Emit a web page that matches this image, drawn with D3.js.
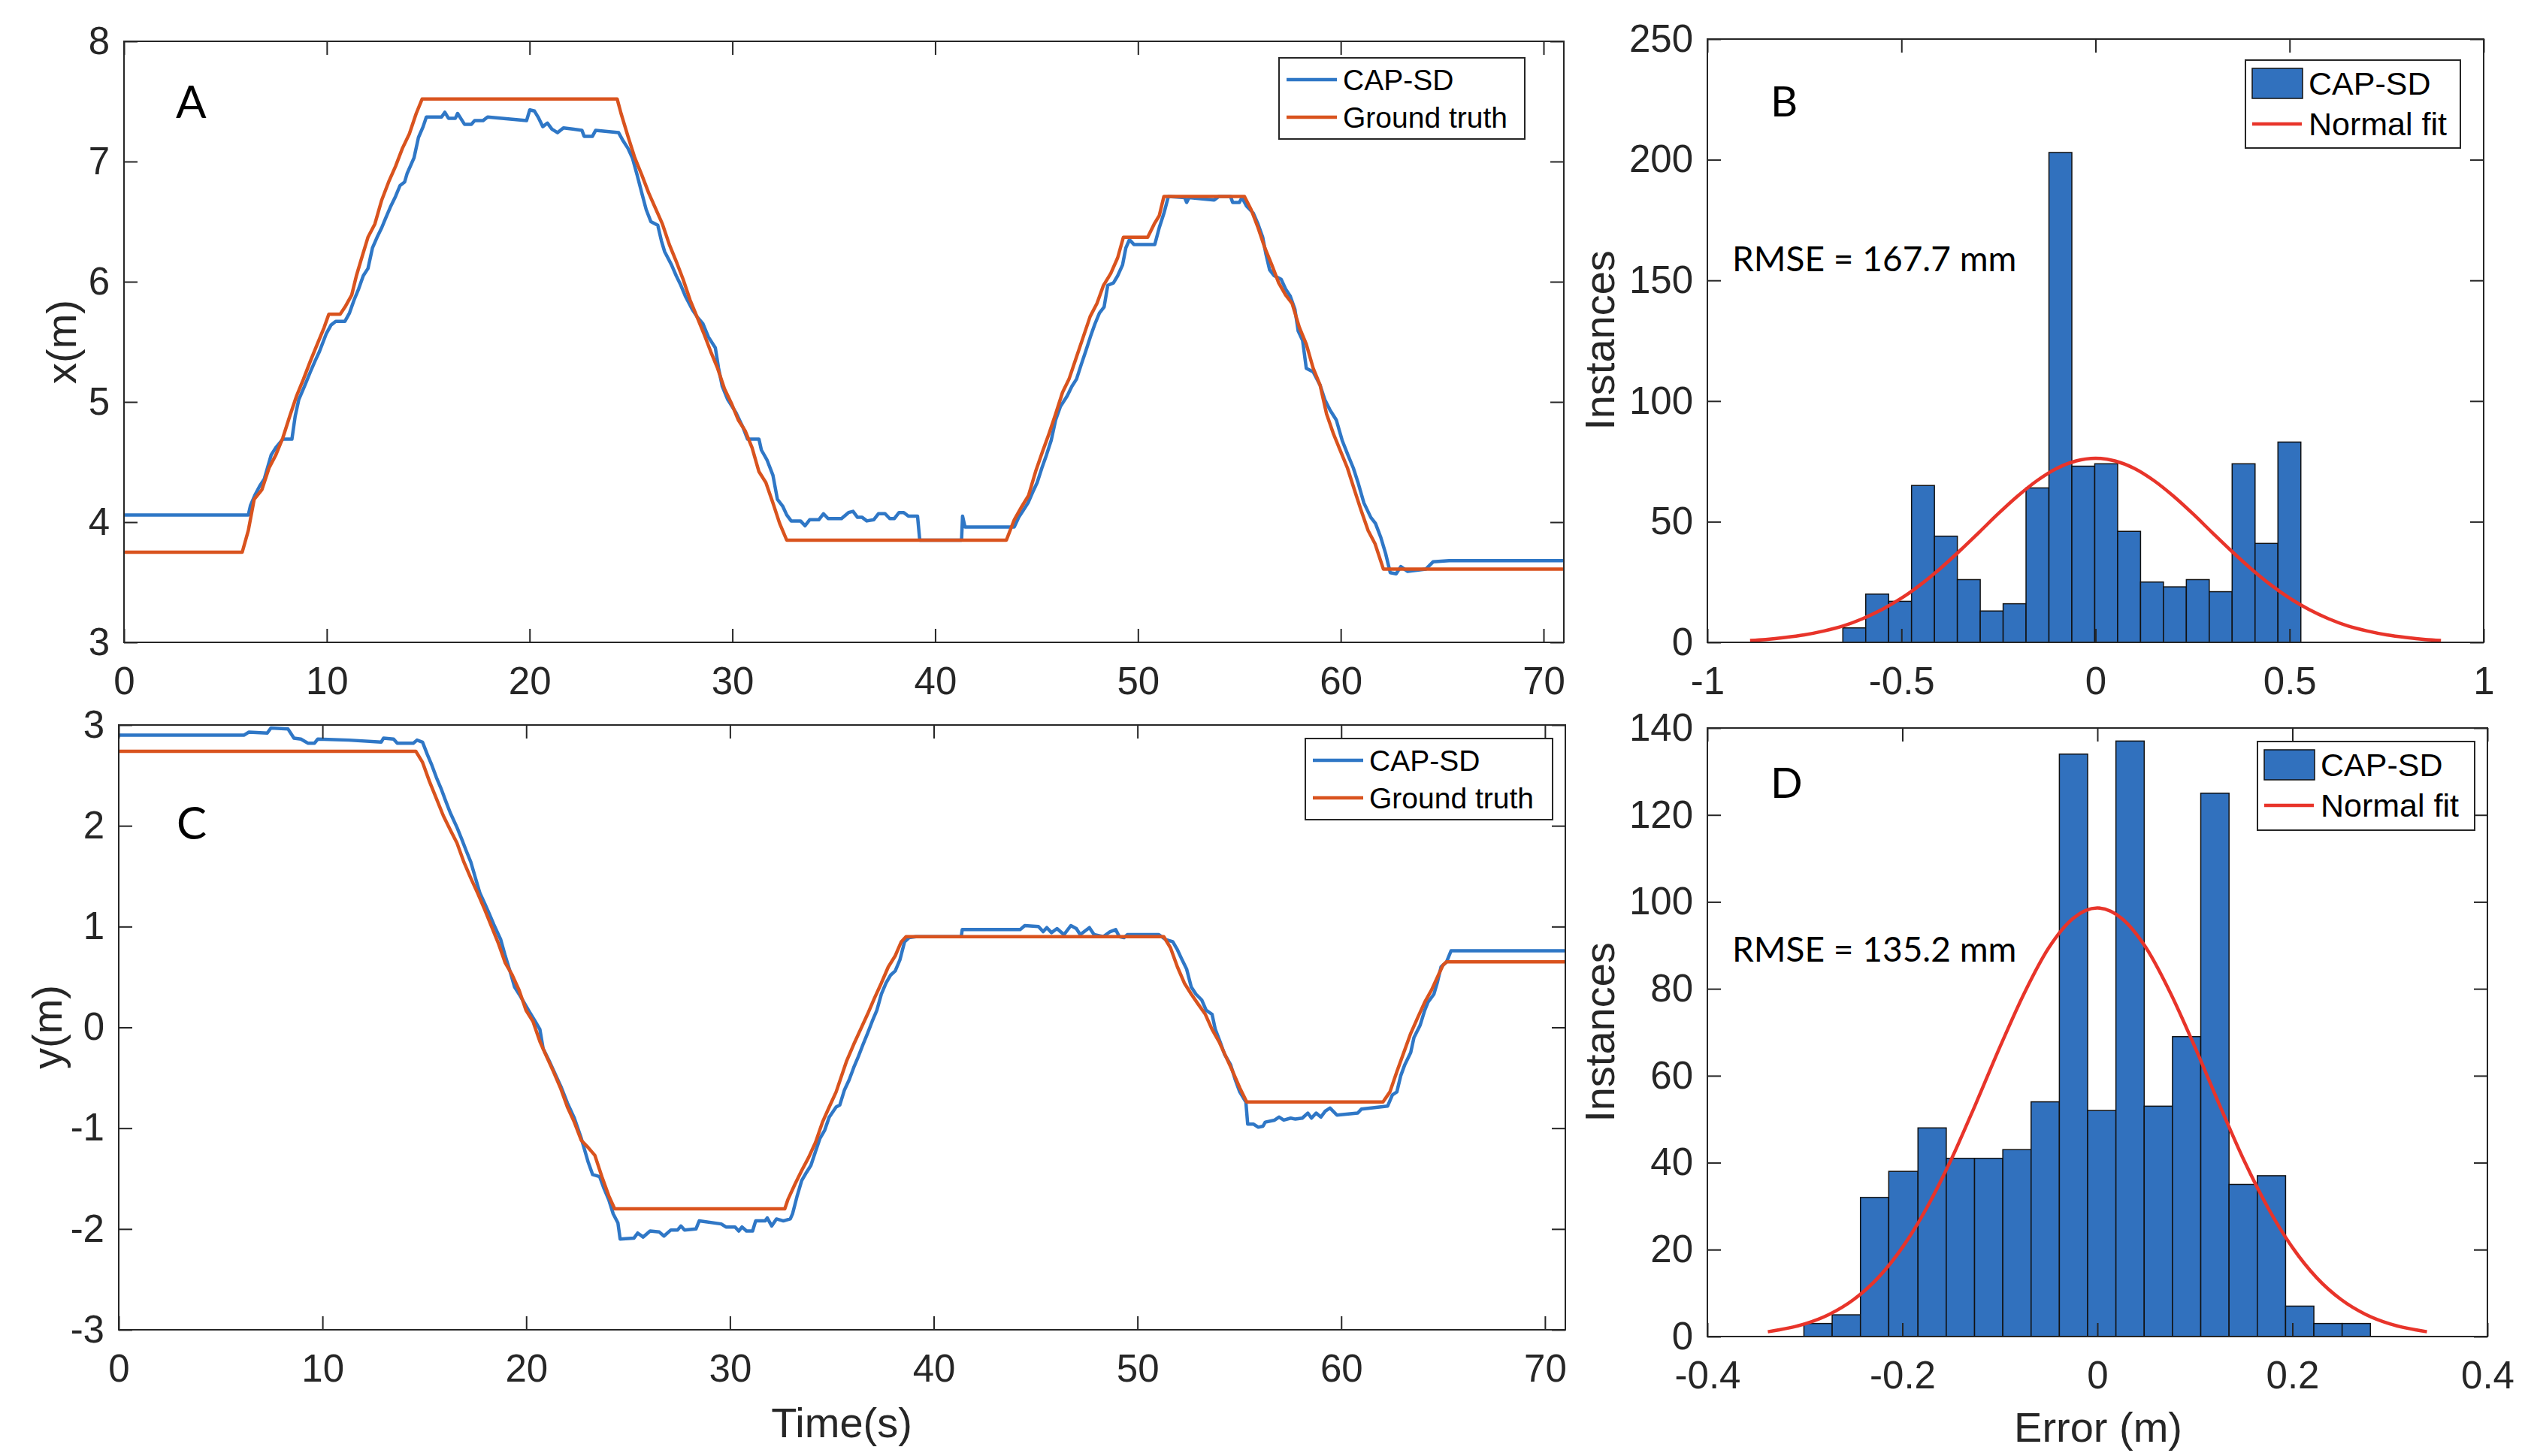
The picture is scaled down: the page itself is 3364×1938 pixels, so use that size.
<!DOCTYPE html>
<html lang="en">
<head>
<meta charset="UTF-8">
<title>CAP-SD trajectory and error</title>
<script src="https://d3js.org/d3.v7.min.js"></script>
<style>
  body { margin: 0; background: #fff; }
  .tick text { fill: #262626; }
</style>
</head>
<body>
<svg id="chart" width="3364" height="1938"></svg>
<script>
// ---------- data ----------
// panel A: x position over time, [time (s), x (m)]
const xTruth = [[0,3.75],[5.83,3.75],[6.13,3.93],[6.42,4.19],[6.8,4.27],[7.15,4.45],[7.49,4.56],[7.83,4.70],[8.17,4.88],[8.51,5.05],[8.85,5.19],[9.19,5.34],[9.53,5.48],[9.87,5.62],[10.1,5.73],[10.66,5.73],[10.9,5.79],[11.23,5.89],[11.46,6.05],[11.69,6.18],[12.03,6.37],[12.37,6.48],[12.71,6.68],[13.05,6.83],[13.39,6.96],[13.73,7.11],[14.07,7.23],[14.41,7.40],[14.70,7.52],[24.32,7.52],[24.51,7.40],[24.85,7.21],[25.19,7.03],[25.53,6.89],[25.87,6.74],[26.21,6.61],[26.55,6.48],[26.89,6.31],[27.23,6.17],[27.57,6.02],[27.91,5.85],[28.25,5.71],[28.59,5.57],[28.93,5.42],[29.27,5.28],[29.61,5.11],[29.95,4.99],[30.29,4.85],[30.63,4.76],[30.97,4.62],[31.31,4.42],[31.65,4.33],[32.0,4.16],[32.33,3.99],[32.68,3.85],[43.51,3.85],[43.9,4.02],[44.27,4.13],[44.6,4.22],[44.95,4.42],[45.3,4.59],[45.6,4.73],[45.94,4.90],[46.28,5.08],[46.6,5.19],[46.96,5.37],[47.3,5.54],[47.64,5.71],[47.98,5.82],[48.3,5.97],[48.66,6.07],[49.0,6.20],[49.28,6.37],[50.48,6.37],[50.8,6.48],[51.05,6.55],[51.28,6.71],[55.25,6.71],[55.58,6.60],[55.92,6.45],[56.26,6.28],[56.6,6.14],[56.94,5.99],[57.28,5.89],[57.6,5.82],[57.96,5.62],[58.3,5.48],[58.64,5.28],[58.98,5.14],[59.3,4.90],[59.65,4.73],[59.99,4.59],[60.33,4.45],[60.67,4.27],[61.0,4.10],[61.35,3.93],[61.69,3.82],[62.1,3.61],[71,3.61]];

const xEst = [[0,4.06],[6.13,4.06],[6.24,4.14],[6.47,4.23],[6.69,4.30],[6.92,4.36],[7.26,4.56],[7.49,4.62],[7.83,4.69],[8.28,4.69],[8.44,4.88],[8.62,5.02],[8.9,5.13],[9.19,5.25],[9.42,5.34],[9.64,5.42],[9.98,5.57],[10.21,5.64],[10.44,5.67],[10.89,5.67],[11.12,5.74],[11.35,5.85],[11.57,5.94],[11.8,6.05],[12.03,6.11],[12.25,6.28],[12.48,6.37],[12.71,6.45],[12.93,6.54],[13.16,6.63],[13.39,6.71],[13.61,6.80],[13.84,6.83],[13.96,6.90],[14.3,7.03],[14.52,7.20],[14.75,7.29],[14.91,7.37],[15.66,7.37],[15.82,7.41],[16.0,7.36],[16.34,7.36],[16.45,7.40],[16.79,7.31],[17.13,7.31],[17.29,7.34],[17.7,7.34],[17.93,7.37],[19.85,7.34],[20.01,7.43],[20.24,7.42],[20.42,7.37],[20.65,7.29],[20.88,7.32],[21.1,7.27],[21.38,7.24],[21.67,7.28],[22.58,7.26],[22.69,7.21],[23.1,7.21],[23.26,7.26],[24.39,7.24],[24.62,7.17],[24.85,7.11],[25.07,7.03],[25.3,6.89],[25.53,6.74],[25.75,6.60],[25.98,6.50],[26.32,6.47],[26.5,6.34],[26.66,6.25],[27.0,6.14],[27.23,6.05],[27.46,5.97],[27.68,5.88],[28.02,5.77],[28.25,5.71],[28.55,5.65],[28.82,5.54],[29.16,5.45],[29.32,5.28],[29.5,5.13],[29.77,5.02],[30.18,4.91],[30.52,4.79],[30.75,4.69],[31.31,4.69],[31.43,4.60],[31.7,4.52],[32.0,4.39],[32.22,4.19],[32.49,4.13],[32.68,4.06],[32.9,4.01],[33.36,4.01],[33.58,3.97],[33.81,4.02],[34.26,4.02],[34.49,4.07],[34.72,4.03],[35.38,4.03],[35.73,4.08],[35.95,4.09],[36.17,4.04],[36.4,4.04],[36.63,4.01],[36.97,4.02],[37.2,4.07],[37.53,4.07],[37.76,4.03],[37.99,4.03],[38.22,4.08],[38.45,4.08],[38.68,4.05],[39.13,4.05],[39.24,3.85],[41.3,3.85],[41.35,4.05],[41.47,3.96],[43.9,3.96],[44.12,4.04],[44.35,4.10],[44.58,4.16],[44.81,4.25],[45.03,4.33],[45.26,4.45],[45.49,4.56],[45.72,4.68],[45.94,4.85],[46.17,4.96],[46.51,5.05],[46.74,5.13],[46.97,5.19],[47.2,5.31],[47.42,5.42],[47.65,5.54],[47.88,5.65],[48.1,5.74],[48.33,5.79],[48.51,5.97],[48.79,5.99],[49.0,6.05],[49.24,6.14],[49.4,6.28],[49.58,6.35],[49.8,6.31],[50.83,6.31],[51.05,6.45],[51.28,6.57],[51.5,6.71],[52.3,6.70],[52.4,6.66],[52.52,6.70],[53.76,6.68],[53.99,6.71],[54.56,6.71],[54.67,6.66],[55.0,6.66],[55.13,6.70],[55.35,6.63],[55.69,6.57],[55.92,6.48],[56.15,6.37],[56.31,6.23],[56.49,6.10],[56.72,6.05],[57.06,6.02],[57.28,5.94],[57.51,5.88],[57.74,5.77],[57.9,5.59],[58.12,5.51],[58.3,5.28],[58.64,5.25],[58.98,5.14],[59.21,5.02],[59.48,4.93],[59.78,4.85],[60.07,4.68],[60.35,4.56],[60.62,4.45],[60.85,4.33],[61.14,4.16],[61.48,4.04],[61.71,3.99],[61.98,3.87],[62.21,3.74],[62.44,3.58],[62.73,3.57],[62.96,3.63],[63.3,3.59],[64.2,3.61],[64.55,3.67],[65.34,3.68],[71,3.68]];

// panel C: y position over time, [time (s), y (m)]
const yTruth = [[0,2.74],[14.58,2.74],[14.91,2.63],[15.25,2.44],[15.59,2.27],[15.93,2.10],[16.27,1.96],[16.6,1.83],[16.94,1.64],[17.28,1.48],[17.62,1.33],[17.96,1.17],[18.3,1.0],[18.64,0.83],[18.97,0.64],[19.31,0.52],[19.65,0.37],[19.99,0.17],[20.33,0.06],[20.67,-0.14],[21.0,-0.29],[21.34,-0.44],[21.68,-0.60],[22.02,-0.79],[22.36,-0.94],[22.7,-1.12],[23.03,-1.19],[23.37,-1.27],[23.71,-1.48],[24.05,-1.67],[24.34,-1.80],[32.69,-1.80],[32.84,-1.71],[33.18,-1.56],[33.52,-1.42],[33.86,-1.29],[34.2,-1.14],[34.54,-0.94],[34.87,-0.79],[35.21,-0.64],[35.73,-0.33],[36.07,-0.17],[36.41,-0.02],[36.75,0.13],[37.09,0.29],[37.43,0.44],[37.77,0.60],[38.11,0.71],[38.41,0.85],[38.64,0.90],[51.29,0.90],[51.62,0.79],[51.96,0.60],[52.3,0.44],[52.64,0.33],[52.98,0.23],[53.33,0.13],[53.66,-0.02],[54.0,-0.14],[54.34,-0.29],[54.68,-0.44],[55.02,-0.60],[55.36,-0.74],[62.05,-0.74],[62.39,-0.64],[62.73,-0.44],[63.07,-0.25],[63.41,-0.06],[63.76,0.10],[64.1,0.25],[64.43,0.37],[64.77,0.52],[65.0,0.62],[65.16,0.65],[71,0.65]];

const yEst = [[0,2.90],[6.16,2.90],[6.39,2.93],[7.29,2.92],[7.47,2.97],[8.31,2.96],[8.6,2.87],[8.94,2.86],[9.28,2.82],[9.61,2.82],[9.77,2.86],[11.3,2.85],[12.88,2.83],[13.0,2.87],[13.49,2.86],[13.67,2.82],[14.46,2.82],[14.64,2.85],[14.91,2.83],[15.14,2.71],[15.37,2.60],[15.59,2.48],[15.82,2.37],[16.04,2.25],[16.27,2.13],[16.61,1.98],[16.83,1.87],[17.06,1.75],[17.28,1.64],[17.51,1.48],[17.73,1.33],[17.96,1.23],[18.18,1.13],[18.41,1.02],[18.75,0.87],[18.97,0.71],[19.2,0.56],[19.43,0.40],[19.65,0.33],[19.88,0.25],[20.17,0.15],[20.44,0.06],[20.67,-0.02],[20.83,-0.21],[21.12,-0.33],[21.46,-0.48],[21.73,-0.60],[22.02,-0.75],[22.36,-0.90],[22.7,-1.10],[23.03,-1.33],[23.26,-1.46],[23.6,-1.48],[23.82,-1.60],[24.05,-1.71],[24.27,-1.85],[24.5,-1.94],[24.61,-2.10],[25.29,-2.09],[25.47,-2.04],[25.74,-2.08],[26.08,-2.02],[26.53,-2.03],[26.76,-2.07],[27.1,-2.01],[27.43,-2.01],[27.59,-1.97],[27.77,-2.01],[28.33,-2.0],[28.49,-1.92],[29.57,-1.95],[29.8,-1.98],[30.25,-1.98],[30.43,-2.02],[30.59,-1.98],[30.81,-2.02],[31.11,-2.02],[31.26,-1.92],[31.72,-1.92],[31.83,-1.89],[32.05,-1.97],[32.28,-1.90],[32.62,-1.92],[32.96,-1.90],[33.07,-1.85],[33.3,-1.67],[33.52,-1.52],[33.75,-1.44],[33.97,-1.37],[34.2,-1.23],[34.42,-1.10],[34.65,-1.02],[34.87,-0.89],[35.21,-0.79],[35.39,-0.77],[35.62,-0.62],[35.85,-0.52],[36.07,-0.40],[36.3,-0.29],[36.53,-0.17],[36.75,-0.06],[36.98,0.06],[37.21,0.17],[37.43,0.33],[37.66,0.44],[37.89,0.52],[38.11,0.56],[38.34,0.67],[38.57,0.85],[38.79,0.89],[39.13,0.90],[41.35,0.90],[41.4,0.97],[44.24,0.97],[44.47,1.01],[45.14,1.00],[45.37,0.95],[45.55,0.99],[45.78,0.94],[46.05,0.98],[46.39,0.92],[46.73,1.01],[47.0,0.98],[47.19,0.92],[47.64,0.99],[47.87,0.92],[48.32,0.90],[48.66,0.95],[48.93,0.97],[49.11,0.90],[49.34,0.89],[49.5,0.92],[51.05,0.92],[51.39,0.87],[51.73,0.85],[51.96,0.77],[52.19,0.67],[52.41,0.58],[52.64,0.40],[52.87,0.33],[53.16,0.27],[53.37,0.17],[53.66,0.13],[53.82,-0.02],[54.05,-0.14],[54.28,-0.27],[54.57,-0.37],[54.8,-0.52],[55.02,-0.64],[55.32,-0.74],[55.41,-0.96],[55.7,-0.96],[55.93,-0.99],[56.16,-0.98],[56.27,-0.94],[56.73,-0.92],[56.95,-0.89],[57.18,-0.92],[57.52,-0.90],[57.75,-0.91],[58.09,-0.90],[58.36,-0.85],[58.54,-0.90],[58.77,-0.85],[59.0,-0.89],[59.22,-0.83],[59.45,-0.80],[59.79,-0.87],[60.81,-0.85],[60.99,-0.81],[62.28,-0.78],[62.51,-0.67],[62.73,-0.64],[62.92,-0.48],[63.12,-0.37],[63.41,-0.25],[63.57,-0.10],[63.87,0.02],[64.1,0.17],[64.26,0.25],[64.55,0.33],[64.71,0.44],[64.9,0.60],[65.17,0.65],[65.39,0.76],[71,0.76]];

// panel B: histogram of x error
const xErrEdges = [-0.651,-0.592,-0.533,-0.474,-0.415,-0.356,-0.297,-0.238,-0.179,-0.120,-0.061,-0.002,0.057,0.116,0.175,0.234,0.293,0.352,0.411,0.470,0.529];
const xErrCounts = [6,20,17,65,44,26,13,16,64,203,73,74,46,25,23,26,21,74,41,83];
const xErrFit = [[-0.89,0.8],[-0.85,1.2],[-0.8,2.0],[-0.75,3.1],[-0.7,4.7],[-0.65,6.8],[-0.6,9.8],[-0.55,13.6],[-0.5,18.3],[-0.45,24.0],[-0.4,30.6],[-0.35,37.9],[-0.3,45.6],[-0.25,53.4],[-0.2,60.7],[-0.15,67.1],[-0.1,72.1],[-0.05,75.2],[0,76.3],[0.05,75.2],[0.1,72.1],[0.15,67.1],[0.2,60.7],[0.25,53.4],[0.3,45.6],[0.35,37.9],[0.4,30.6],[0.45,24.0],[0.5,18.3],[0.55,13.6],[0.6,9.8],[0.65,6.8],[0.7,4.7],[0.75,3.1],[0.8,2.0],[0.85,1.2],[0.89,0.8]];

// panel D: histogram of y error
const yErrEdges = [-0.301,-0.272,-0.243,-0.214,-0.184,-0.155,-0.126,-0.097,-0.068,-0.039,-0.010,0.019,0.048,0.077,0.106,0.135,0.164,0.193,0.222,0.251,0.280];
const yErrCounts = [3,5,32,38,48,41,41,43,54,134,52,137,53,69,125,35,37,7,3,3];
const yErrFit = [[-0.338,1.1],[-0.3,2.9],[-0.275,5.1],[-0.25,8.5],[-0.225,13.5],[-0.2,20.5],[-0.175,29.6],[-0.15,40.7],[-0.125,53.4],[-0.1,66.6],[-0.075,79.0],[-0.05,89.4],[-0.025,96.2],[0,98.6],[0.025,96.2],[0.05,89.4],[0.075,79.0],[0.1,66.6],[0.125,53.4],[0.15,40.7],[0.175,29.6],[0.2,20.5],[0.225,13.5],[0.25,8.5],[0.275,5.1],[0.3,2.9],[0.338,1.1]];

// ticks
const timeTicks = [0,10,20,30,40,50,60,70];
const xPosTicks = [3,4,5,6,7,8];
const yPosTicks = [-3,-2,-1,0,1,2,3];
const xErrTicks = [-1,-0.5,0,0.5,1];
const xErrCountTicks = [0,50,100,150,200,250];
const yErrTicks = [-0.4,-0.2,0,0.2,0.4];
const yErrCountTicks = [0,20,40,60,80,100,120,140];

// ---------- drawing ----------
const svg = d3.select("#chart");
const blue = "#2f77c6", orange = "#d9531e", barBlue = "#3171be", fitRed = "#e8342a";
const ink = "#262626";
const tickFont = "'Liberation Sans', Arial, Helvetica, sans-serif";
const calFont = "Lato, 'Open Sans', sans-serif";

function frame(box, x, y, xt, yt) {
  const g = svg.append("g");
  const fmt = d => String(d);
  const style = sel => {
    sel.select(".domain").remove();
    sel.selectAll("line").attr("stroke", ink).attr("stroke-width", 2);
    sel.selectAll("text").attr("font-family", tickFont).attr("font-size", 51).attr("fill", ink);
  };
  g.append("g").attr("transform", `translate(0,${box.y1})`)
    .call(d3.axisBottom(x).tickValues(xt).tickFormat(fmt).tickSize(-18).tickSizeOuter(0).tickPadding(33))
    .call(style);
  g.append("g").attr("transform", `translate(0,${box.y0})`)
    .call(d3.axisTop(x).tickValues(xt).tickFormat("").tickSize(-18).tickSizeOuter(0))
    .call(style);
  g.append("g").attr("transform", `translate(${box.x0},0)`)
    .call(d3.axisLeft(y).tickValues(yt).tickFormat(fmt).tickSize(-18).tickSizeOuter(0).tickPadding(19))
    .call(style);
  g.append("g").attr("transform", `translate(${box.x1},0)`)
    .call(d3.axisRight(y).tickValues(yt).tickFormat("").tickSize(-18).tickSizeOuter(0))
    .call(style);
  g.append("rect")
    .attr("x", box.x0).attr("y", box.y0)
    .attr("width", box.x1 - box.x0).attr("height", box.y1 - box.y0)
    .attr("fill", "none").attr("stroke", ink).attr("stroke-width", 2);
}

function axisTitle(text, cx, cy, rotate) {
  svg.append("text")
    .attr("transform", `translate(${cx},${cy})` + (rotate ? " rotate(-90)" : ""))
    .attr("text-anchor", "middle").attr("dy", "0.35em")
    .attr("font-family", tickFont).attr("font-size", 56).attr("fill", ink)
    .text(text);
}

function label(text, x, y, size) {
  svg.append("text").attr("x", x).attr("y", y)
    .attr("font-family", calFont).attr("font-size", size).attr("fill", "#000")
    .text(text);
}

function lineLegend(bx, by, bw, bh, items) {
  const g = svg.append("g");
  g.append("rect").attr("x", bx).attr("y", by).attr("width", bw).attr("height", bh)
    .attr("fill", "#fff").attr("stroke", ink).attr("stroke-width", 2);
  items.forEach((it, i) => {
    const cy = by + 29 + i * 50;
    g.append("line").attr("x1", bx + 10).attr("x2", bx + 77).attr("y1", cy).attr("y2", cy)
      .attr("stroke", it.color).attr("stroke-width", 4.5);
    g.append("text").attr("x", bx + 85).attr("y", cy).attr("dy", "0.36em")
      .attr("font-family", tickFont).attr("font-size", 39).attr("fill", "#000").text(it.name);
  });
}

function histLegend(bx, by, bw, bh) {
  const g = svg.append("g");
  g.append("rect").attr("x", bx).attr("y", by).attr("width", bw).attr("height", bh)
    .attr("fill", "#fff").attr("stroke", ink).attr("stroke-width", 2);
  g.append("rect").attr("x", bx + 9).attr("y", by + 11).attr("width", 67).attr("height", 40)
    .attr("fill", barBlue).attr("stroke", "#111").attr("stroke-width", 1.5);
  g.append("line").attr("x1", bx + 9).attr("x2", bx + 75).attr("y1", by + 85).attr("y2", by + 85)
    .attr("stroke", fitRed).attr("stroke-width", 4.5);
  g.append("text").attr("x", bx + 84).attr("y", by + 31).attr("dy", "0.36em")
    .attr("font-family", tickFont).attr("font-size", 43).attr("fill", "#000").text("CAP-SD");
  g.append("text").attr("x", bx + 84).attr("y", by + 85).attr("dy", "0.36em")
    .attr("font-family", tickFont).attr("font-size", 43).attr("fill", "#000").text("Normal fit");
}

function trackPanel(box, yDomain, yTicks, est, truth) {
  const x = d3.scaleLinear().domain([0, 71]).range([box.x0, box.x1]);
  const y = d3.scaleLinear().domain(yDomain).range([box.y1, box.y0]);
  const line = d3.line().x(d => x(d[0])).y(d => y(d[1]));
  svg.append("path").datum(est).attr("d", line)
    .attr("fill", "none").attr("stroke", blue).attr("stroke-width", 4.5).attr("stroke-linejoin", "round");
  svg.append("path").datum(truth).attr("d", line)
    .attr("fill", "none").attr("stroke", orange).attr("stroke-width", 4.5).attr("stroke-linejoin", "round");
  frame(box, x, y, timeTicks, yTicks);
}

function histPanel(box, xDomain, yDomain, xTicks, yTicks, edges, counts, fit) {
  const x = d3.scaleLinear().domain(xDomain).range([box.x0, box.x1]);
  const y = d3.scaleLinear().domain(yDomain).range([box.y1, box.y0]);
  svg.append("g").selectAll("rect")
    .data(counts)
    .join("rect")
    .attr("x", (d, i) => x(edges[i]))
    .attr("width", (d, i) => x(edges[i + 1]) - x(edges[i]))
    .attr("y", d => y(d))
    .attr("height", d => y(0) - y(d))
    .attr("fill", barBlue).attr("stroke", "#111").attr("stroke-width", 1.5);
  const line = d3.line().x(d => x(d[0])).y(d => y(d[1])).curve(d3.curveMonotoneX);
  svg.append("path").datum(fit).attr("d", line)
    .attr("fill", "none").attr("stroke", fitRed).attr("stroke-width", 4.5);
  frame(box, x, y, xTicks, yTicks);
}

const boxA = {x0: 165, x1: 2081, y0: 55, y1: 855};
const boxB = {x0: 2272, x1: 3305, y0: 52, y1: 855};
const boxC = {x0: 158, x1: 2083, y0: 965, y1: 1770};
const boxD = {x0: 2272, x1: 3310, y0: 969, y1: 1779};

trackPanel(boxA, [3, 8], xPosTicks, xEst, xTruth);
trackPanel(boxC, [-3, 3], yPosTicks, yEst, yTruth);
histPanel(boxB, [-1, 1], [0, 250], xErrTicks, xErrCountTicks, xErrEdges, xErrCounts, xErrFit);
histPanel(boxD, [-0.4, 0.4], [0, 140], yErrTicks, yErrCountTicks, yErrEdges, yErrCounts, yErrFit);

lineLegend(1702, 77, 327, 108, [{name: "CAP-SD", color: blue}, {name: "Ground truth", color: orange}]);
lineLegend(1737, 983, 329, 108, [{name: "CAP-SD", color: blue}, {name: "Ground truth", color: orange}]);
histLegend(2988, 80, 286, 117);
histLegend(3004, 987, 289, 118);

label("A", 234, 157, 60);
label("C", 235, 1117, 60);
label("B", 2356, 155, 56);
label("D", 2356, 1062, 56);
label("RMSE = 167.7 mm", 2305, 361, 46);
label("RMSE = 135.2 mm", 2305, 1280, 46);

axisTitle("x(m)", 81, 455, true);
axisTitle("y(m)", 62, 1367, true);
axisTitle("Instances", 2128, 453, true);
axisTitle("Instances", 2128, 1374, true);
axisTitle("Time(s)", 1120, 1893, false);
axisTitle("Error (m)", 2792, 1899, false);
</script>
</body>
</html>
